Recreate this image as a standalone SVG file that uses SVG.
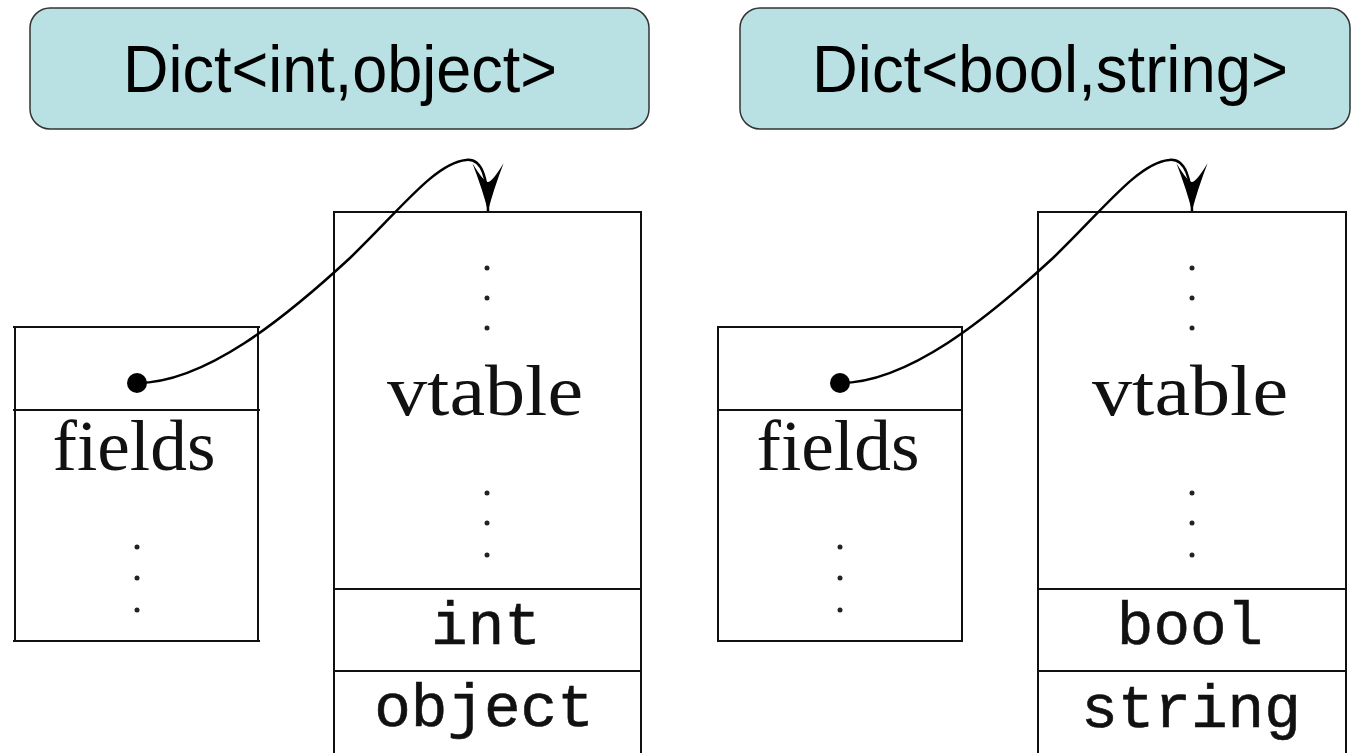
<svg xmlns="http://www.w3.org/2000/svg" width="1351" height="753" viewBox="0 0 1351 753">
<style>
.hdr{fill:#b9e0e3;stroke:#333;stroke-width:1.5}
.hdrt{font-family:"Liberation Sans",Arial,sans-serif;font-size:66px;fill:#000;text-anchor:middle}
.ln{stroke:#111;stroke-width:2;fill:none}
.rm{font-family:"Liberation Serif","Times New Roman",serif;font-size:71px;fill:#111;text-anchor:middle}
.tt{font-family:"Liberation Mono","Courier New",monospace;font-size:61px;fill:#111;text-anchor:middle;stroke:#111;stroke-width:0.6}
.dot{fill:#222}
.conn{stroke:#000;stroke-width:2.5;fill:none}
</style>
<defs>
<marker id="arr" markerUnits="userSpaceOnUse" markerWidth="52" markerHeight="40" viewBox="-48 -18 50 36" refX="0" refY="0" orient="auto">
<path d="M0,0 Q-20,-5 -46,-15 Q-28,-4 -28,0 Q-28,4 -46,15 Q-20,5 0,0 Z" fill="#000"/>
</marker>
</defs>
<g id="hdr1">
<rect class="hdr" x="30" y="8" width="619" height="121" rx="20"/>
<text class="hdrt" x="340" y="92" textLength="434" lengthAdjust="spacingAndGlyphs">Dict&lt;int,object&gt;</text>
</g>
<g id="hdr2">
<rect class="hdr" x="740" y="8" width="610" height="121" rx="20"/>
<text class="hdrt" x="1050" y="92" textLength="476" lengthAdjust="spacingAndGlyphs">Dict&lt;bool,string&gt;</text>
</g>
<g id="obj1">
<path class="ln" d="M13,327 H260 M13,410 H260 M13,641 H260 M15,327 V641 M258,327 V641"/>
<text class="rm" x="134" y="470" textLength="163" lengthAdjust="spacingAndGlyphs">fields</text>
<circle class="dot" cx="137" cy="547" r="2.5"/><circle class="dot" cx="137" cy="578" r="2.5"/><circle class="dot" cx="137" cy="610" r="2.5"/>
</g>
<g id="vt1">
<path class="ln" d="M333,212 H642 M333,589 H642 M333,671 H642 M334,212 V760 M641,212 V760"/>
<circle class="dot" cx="487" cy="268" r="2.5"/><circle class="dot" cx="487" cy="298" r="2.5"/><circle class="dot" cx="487" cy="328" r="2.5"/>
<text class="rm" x="485" y="415" textLength="196" lengthAdjust="spacingAndGlyphs">vtable</text>
<circle class="dot" cx="487" cy="493" r="2.5"/><circle class="dot" cx="487" cy="523" r="2.5"/><circle class="dot" cx="487" cy="555" r="2.5"/>
<text class="tt" x="486" y="644">int</text>
<text class="tt" x="484" y="726">object</text>
</g>
<g id="obj2">
<path class="ln" d="M717,327 H963 M717,410 H963 M717,641 H963 M718,327 V641 M962,327 V641"/>
<text class="rm" x="838" y="470" textLength="163" lengthAdjust="spacingAndGlyphs">fields</text>
<circle class="dot" cx="840" cy="547" r="2.5"/><circle class="dot" cx="840" cy="578" r="2.5"/><circle class="dot" cx="840" cy="610" r="2.5"/>
</g>
<g id="vt2">
<path class="ln" d="M1037,212 H1347 M1037,589 H1347 M1037,671 H1347 M1038,212 V760 M1346,212 V760"/>
<circle class="dot" cx="1192" cy="268" r="2.5"/><circle class="dot" cx="1192" cy="298" r="2.5"/><circle class="dot" cx="1192" cy="328" r="2.5"/>
<text class="rm" x="1190" y="415" textLength="196" lengthAdjust="spacingAndGlyphs">vtable</text>
<circle class="dot" cx="1192" cy="493" r="2.5"/><circle class="dot" cx="1192" cy="523" r="2.5"/><circle class="dot" cx="1192" cy="555" r="2.5"/>
<text class="tt" x="1190" y="644">bool</text>
<text class="tt" x="1191" y="727">string</text>
</g>
<g id="connectors">
<circle cx="137" cy="383" r="10" fill="#000"/>
<path class="conn" marker-end="url(#arr)" d="M137,383 C205,383 285,318 350,258 C400,210 435,163 466,160 C482,158 488,178 488,211"/>
<circle cx="840" cy="383" r="10" fill="#000"/>
<path class="conn" marker-end="url(#arr)" d="M840,383 C908,383 988,318 1053,258 C1103,210 1138,163 1169,160 C1185,158 1192,178 1192,211"/>
</g>
</svg>
